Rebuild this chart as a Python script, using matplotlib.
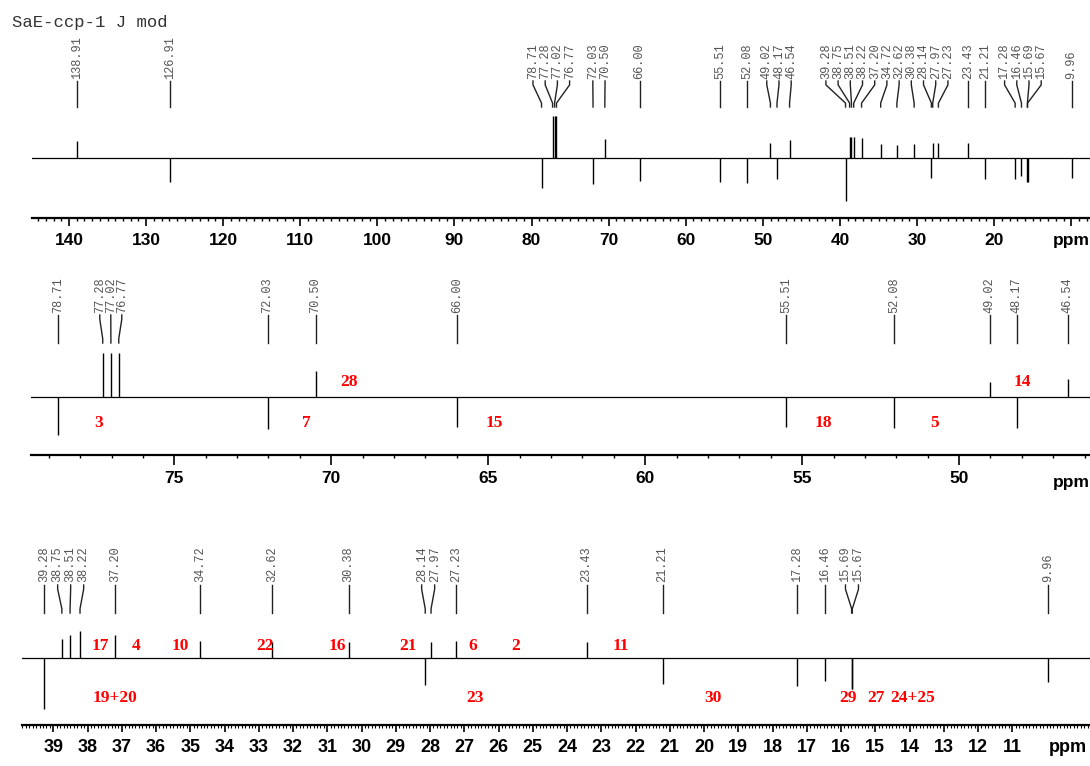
import numpy as np
import matplotlib
matplotlib.use("Agg")
import matplotlib.pyplot as plt

# 13C J-mod spectrum: peak shifts (ppm) and heights (positive = up, negative = down)
top_shifts = [138.91, 126.91, 78.71, 77.28, 77.02, 76.77, 72.03, 70.50, 66.00,
              55.51, 52.08, 49.02, 48.17, 46.54, 39.28, 38.75, 38.51, 38.22,
              37.20, 34.72, 32.62, 30.38, 28.14, 27.97, 27.23, 23.43, 21.21,
              17.28, 16.46, 15.69, 15.67, 9.96]
top_heights = [17, -24, -30, 42, 42, 42, -26, 19, -23,
               -24, -25, 15, -21, 18, -43, 21, 21, 21,
               20, 14, 13, 14, -20, 15, 15, 15, -21,
               -21, -18, -24, -24, -20]

mid_shifts = [78.71, 77.28, 77.02, 76.77, 72.03, 70.50, 66.00, 55.51, 52.08,
              49.02, 48.17, 46.54]
mid_heights = [-38, 44, 44, 44, -32, 26, -30, -30, -31, 15, -31, 18]

bot_shifts = [39.28, 38.75, 38.51, 38.22, 37.20, 34.72, 32.62, 30.38, 28.14,
              27.97, 27.23, 23.43, 21.21, 17.28, 16.46, 15.69, 15.67, 9.96]
bot_heights = [-51, 19, 23, 27, 23, 17, 16, 16, -27, 16, 17, 16, -26, -28,
               -23, -31, -31, -24]

# carbon assignments (red numbers)
mid_assign = ["28", "14", "3", "7", "15", "18", "5"]
mid_assign_ppm = [69.43, 48.00, 77.42, 70.80, 64.82, 54.33, 50.78]
mid_assign_up = [True, True, False, False, False, False, False]

bot_assign = ["17", "4", "10", "22", "16", "21", "6", "2", "11",
              "19+20", "23", "30", "29", "27", "24+25"]
bot_assign_ppm = [37.64, 36.58, 35.28, 32.82, 30.72, 28.64, 26.76, 25.50, 22.44,
                  37.20, 26.68, 19.75, 15.79, 14.99, 13.92]
bot_assign_up = [True] * 9 + [False] * 6

W, H = 1090, 766
fig = plt.figure(figsize=(W / 100, H / 100), dpi=100)

MONO = "Liberation Mono"
SANS = "Liberation Sans"
SERIF = "Liberation Serif"


def spread(u, d):
    # push label positions apart, keeping each cluster centred on its peaks
    groups = [[v] for v in u]
    changed = True
    while changed:
        changed = False
        out = [groups[0]]
        for g in groups[1:]:
            prev = out[-1]
            ps = np.mean(prev) - (len(prev) - 1) * d / 2
            gs = np.mean(g) - (len(g) - 1) * d / 2
            if ps + len(prev) * d > gs:
                out[-1] = prev + g
                changed = True
            else:
                out.append(g)
        groups = out
    pos = []
    for g in groups:
        s = np.mean(g) - (len(g) - 1) * d / 2
        pos += [s + i * d for i in range(len(g))]
    return pos


def panel(x0, y_top, y_rul, base, xl, xr, shifts, heights,
          txt_bot, ln_top, ln_bot, spacing):
    ax = fig.add_axes([x0 / W, 1 - y_rul / H, (W - x0) / W, (y_rul - y_top) / H])
    ax.set_facecolor("none")
    ax.set_xlim(xl, xr)
    ax.set_ylim(base - y_rul, base - y_top)
    for s in ["top", "left", "right"]:
        ax.spines[s].set_visible(False)
    ax.spines["bottom"].set_linewidth(1.6)
    ax.set_yticks([])

    ax.axhline(0, color="k", lw=0.9)
    ax.vlines(shifts, 0, heights, color="k", lw=1.0)

    # peak labels with leader lines
    scale = (W - x0) / (xl - xr)
    u = [(xl - s) * scale for s in shifts]
    lab_u = spread(u, spacing)
    yt = base - txt_bot
    y1 = base - ln_top
    y2 = base - ln_bot
    L = y1 - y2
    for s, lu in zip(shifts, lab_u):
        lx = xl - lu / scale
        ax.plot([lx, lx, s, s], [y1, y1 - 0.15 * L, y2 + 0.15 * L, y2],
                color="#222222", lw=1.0, clip_on=False)
        ax.text(lx, yt, f"{s:.2f}", rotation=90, ha="center", va="bottom",
                fontsize=8.6, family=MONO, color="#555555")
    return ax


# top: full spectrum
ax1 = panel(32, 30, 218.3, 158, 144.80, 7.57, top_shifts, top_heights,
            79, 81, 107, 12.2)
t1 = np.arange(140, 9, -10)
ax1.set_xticks(t1, labels=[("ppm" if t == 10 else str(t)) for t in t1],
               fontsize=12.5, fontweight="bold", family=SANS)
ax1.set_xticks(np.arange(144, 7, -1), minor=True)
ax1.tick_params(axis="x", which="major", length=5.8, width=1.2, pad=5)
ax1.tick_params(axis="x", which="minor", length=2.2, width=1.0)

# middle: 79.5 - 46 ppm
ax2 = panel(31, 270, 455, 397, 79.565, 45.83, mid_shifts, mid_heights,
            313, 315, 343, 11)
t2 = np.arange(75, 46, -5)
ax2.set_xticks(t2, labels=[str(t) for t in t2],
               fontsize=12.5, fontweight="bold", family=SANS)
ax2.set_xticks(np.arange(79, 45, -1), minor=True)
ax2.tick_params(axis="x", which="major", length=7.2, width=1.2, pad=4)
ax2.tick_params(axis="x", which="minor", length=2.2, width=1.0)
fig.text(1071 / W, 1 - 483 / H, "ppm", ha="center", va="center",
         fontsize=12.5, fontweight="bold", family=SANS)
for t, p, up in zip(mid_assign, mid_assign_ppm, mid_assign_up):
    ax2.text(p, 15 if up else -26, t, ha="center", va="center", color="red",
             fontsize=12.5, fontweight="bold", family=SERIF)

# bottom: 40 - 9 ppm
ax3 = panel(22, 535, 725, 658, 39.914, 8.73, bot_shifts, bot_heights,
            582, 585, 613, 13)
t3 = np.arange(39, 10, -1)
ax3.set_xticks(t3, labels=[str(t) for t in t3],
               fontsize=13, fontweight="bold", family=SANS)
ax3.set_xticks(np.arange(39.9, 8.7, -0.1), minor=True)
ax3.tick_params(axis="x", which="major", length=5, width=1.2, pad=5)
ax3.tick_params(axis="x", which="minor", length=1.8, width=0.8)
fig.text(1068 / W, 1 - 748 / H, "ppm", ha="center", va="center",
         fontsize=13, fontweight="bold", family=SANS)
for t, p, up in zip(bot_assign, bot_assign_ppm, bot_assign_up):
    ax3.text(p, 12 if up else -40, t, ha="center", va="center", color="red",
             fontsize=12.5, fontweight="bold", family=SERIF)

fig.text(12 / W, 1 - 27 / H, "SaE-ccp-1 J mod", ha="left", va="baseline",
         fontsize=12.4, family=MONO, color="#333333")

fig.savefig("out.png", dpi=100)
